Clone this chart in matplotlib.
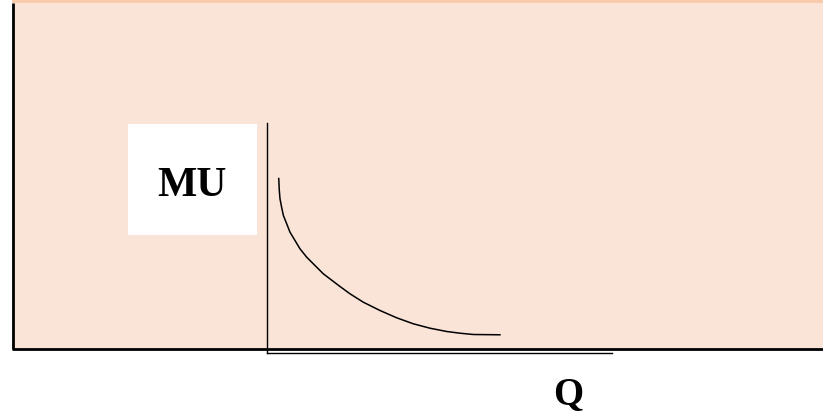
"""Diminishing marginal utility sketch: MU against Q on a peach panel."""

import matplotlib

matplotlib.use("Agg")
import matplotlib.pyplot as plt
from matplotlib.patches import Rectangle

W, H = 823, 419

# curve (Q from the corner, MU up from the Q axis, in px)
q_values = [11.7, 12.3, 13, 14.6, 16.4, 19.7, 23, 28, 33, 39.7, 48, 56.3,
            73, 83, 96.3, 113, 129.7, 146.3, 163, 179.7, 193, 206.3, 233.7]
mu_values = [174.7, 162, 153.7, 145.3, 137, 128.7, 120.3, 112, 103.7, 95.3, 87, 78.7,
             66, 58.7, 50.3, 42, 34.7, 28.7, 24.3, 21, 19.3, 18, 17.7]
y_label = "MU"
x_label = "Q"

PANEL = "#FAE4D7"
PANEL_TOP = "#F8CBAD"


def main() -> None:
    fig = plt.figure(figsize=(W / 100, H / 100), dpi=100)
    fig.patch.set_facecolor("white")

    # background axes in pixel units, y pointing down
    bg = fig.add_axes([0, 0, 1, 1])
    bg.set_xlim(0, W)
    bg.set_ylim(H, 0)
    bg.axis("off")

    bg.add_patch(Rectangle((12, 0), W - 12, 349.5, facecolor=PANEL, edgecolor="none"))
    bg.add_patch(Rectangle((12, 0), W - 12, 3, facecolor=PANEL_TOP, edgecolor="none"))
    bg.plot([13.2, 13.2], [3, 349.3], color="black", linewidth=2.0, solid_capstyle="butt")
    bg.plot([12, W], [349.3, 349.3], color="black", linewidth=2.0, solid_capstyle="butt")

    bg.add_patch(Rectangle((128, 124), 129, 111, facecolor="white", edgecolor="none"))
    bg.text(192, 196, y_label, ha="center", va="baseline", fontsize=30,
            family="Liberation Serif", fontweight="bold")
    bg.text(568.5, 404, x_label, ha="center", va="baseline", fontsize=28,
            family="Liberation Serif", fontweight="bold")

    # the MU/Q diagram itself
    x0, y0, x1, y1 = 267, 352.5, 612, 123
    ax = fig.add_axes([x0 / W, (H - y0) / H, (x1 - x0) / W, (y0 - y1) / H])
    ax.set_xlim(0, x1 - x0)
    ax.set_ylim(0, y0 - y1)
    ax.patch.set_alpha(0)
    for side in ("top", "right"):
        ax.spines[side].set_visible(False)
    for side in ("left", "bottom"):
        ax.spines[side].set_linewidth(1.0)
        ax.spines[side].set_color("black")
    ax.set_xticks([])
    ax.set_yticks([])

    ax.plot(q_values, mu_values, color="black", linewidth=1.1,
            solid_joinstyle="round", solid_capstyle="butt")

    fig.savefig("out.png", dpi=100)
    plt.close(fig)


if __name__ == "__main__":
    main()
